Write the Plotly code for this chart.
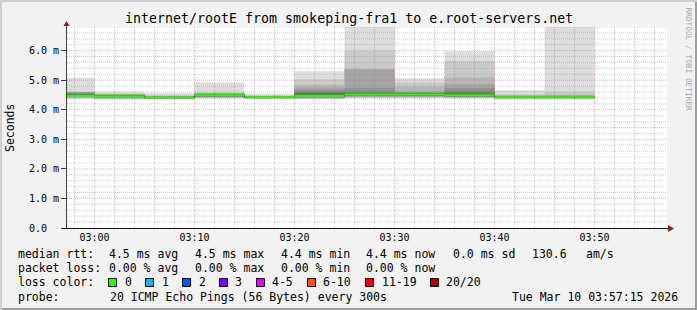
import plotly.graph_objects as go
from datetime import datetime, timedelta

# ---------------- data ----------------
TITLE = "internet/rootE from smokeping-fra1 to e.root-servers.net"
Y_LABEL = "Seconds"
WATERMARK = "RRDTOOL / TOBI OETIKER"
DAY = "2026-03-10"
T_START = "02:57:15"
T_END = "03:57:15"
STEP_S = 300
Y_MAX = 6.8  # ms

bin_ends = ["03:00", "03:05", "03:10", "03:15", "03:20", "03:25",
            "03:30", "03:35", "03:40", "03:45", "03:50"]
median_ms = [4.465, 4.46, 4.41, 4.49, 4.42, 4.47, 4.52, 4.52, 4.49, 4.42, 4.42]

# 20 ping rtts (ms) per 5-minute step
pings_0300 = [4.36, 4.39, 4.41, 4.42, 4.43, 4.44, 4.45, 4.45, 4.46, 4.46,
              4.47, 4.48, 4.49, 4.51, 4.54, 4.58, 4.60, 4.60, 4.61, 5.08]
pings_0305 = [4.34, 4.36, 4.38, 4.40, 4.41, 4.42, 4.43, 4.44, 4.45, 4.46,
              4.46, 4.47, 4.48, 4.49, 4.50, 4.51, 4.52, 4.53, 4.55, 4.61]
pings_0310 = [4.35, 4.36, 4.37, 4.38, 4.39, 4.39, 4.40, 4.40, 4.41, 4.41,
              4.41, 4.42, 4.42, 4.43, 4.44, 4.45, 4.46, 4.47, 4.49, 4.57]
pings_0315 = [4.37, 4.40, 4.42, 4.43, 4.44, 4.45, 4.46, 4.47, 4.48, 4.49,
              4.49, 4.50, 4.51, 4.52, 4.53, 4.54, 4.55, 4.56, 4.59, 4.93]
pings_0320 = [4.36, 4.37, 4.38, 4.39, 4.40, 4.40, 4.41, 4.41, 4.42, 4.42,
              4.42, 4.43, 4.43, 4.44, 4.44, 4.45, 4.46, 4.47, 4.49, 4.54]
pings_0325 = [4.35, 4.37, 4.39, 4.40, 4.41, 4.42, 4.43, 4.44, 4.45, 4.46,
              4.48, 4.50, 4.52, 4.56, 4.62, 4.68, 4.75, 4.85, 5.02, 5.30]
pings_0330 = [4.38, 4.41, 4.43, 4.45, 4.46, 4.47, 4.48, 4.49, 4.50, 4.51,
              4.52, 4.53, 4.54, 4.54, 4.62, 4.74, 5.37, 5.38, 6.00, 7.20]
pings_0335 = [4.38, 4.41, 4.43, 4.45, 4.46, 4.47, 4.48, 4.49, 4.50, 4.51,
              4.52, 4.53, 4.54, 4.55, 4.57, 4.60, 4.63, 4.79, 4.93, 5.07]
pings_0340 = [4.37, 4.40, 4.42, 4.43, 4.44, 4.45, 4.46, 4.47, 4.48, 4.49,
              4.50, 4.51, 4.53, 4.56, 4.63, 4.74, 4.87, 5.10, 5.66, 5.98]
pings_0345 = [4.35, 4.37, 4.38, 4.39, 4.40, 4.40, 4.41, 4.41, 4.42, 4.42,
              4.42, 4.43, 4.43, 4.44, 4.45, 4.46, 4.47, 4.49, 4.53, 4.66]
pings_0350 = [4.35, 4.37, 4.38, 4.39, 4.40, 4.40, 4.41, 4.41, 4.42, 4.42,
              4.42, 4.43, 4.43, 4.44, 4.45, 4.46, 4.48, 4.52, 4.62, 7.20]

x_tick_text = ["03:00", "03:10", "03:20", "03:30", "03:40", "03:50"]
y_tick_vals = [0, 1, 2, 3, 4, 5, 6]
y_tick_text = ["0.0\u00a0\u00a0", "1.0 m", "2.0 m", "3.0 m", "4.0 m", "5.0 m", "6.0 m"]

legend_row1 = ["median rtt:", "4.5 ms avg", "4.5 ms max", "4.4 ms min",
               "4.4 ms now", "0.0 ms sd", "130.6", "am/s"]
legend_row2 = ["packet loss:", "0.00 % avg", "0.00 % max", "0.00 % min", "0.00 % now"]
legend_row3_label = "loss color:"
loss_labels = ["0", "1", "2", "3", "4-5", "6-10", "11-19", "20/20"]
loss_colors = ["#26ff00", "#00b8ff", "#0059ff", "#7e00ff",
               "#dd00ff", "#ff5500", "#ff0000", "#a10000"]
legend_row4 = ["probe:", "20 ICMP Echo Pings (56 Bytes) every 300s"]
timestamp_text = "Tue Mar 10 03:57:15 2026"

# ---------------- layout constants ----------------
W, H = 697, 310
ML, MR, MT, MB = 67, 30, 27, 82
PW = W - ML - MR
PH = H - MT - MB
FONT = "DejaVu Sans Mono"
row1_x = [16, 107, 193, 279, 364, 451, 530, 584]
row2_x = [16, 107, 193, 279, 364]
swatch_x = [108, 145, 182, 219, 256, 307, 365, 430]
swlabel_x = [123, 160, 197, 233, 270, 321, 380, 444]
row4_x = [16, 108]
row_y = [254, 268, 282, 296.5]


def px_x(px):
    return (px - ML) / PW


def px_y(py):
    return (MT + PH - py) / PH


def ts(hm):
    fmt = "%Y-%m-%d %H:%M:%S" if hm.count(":") == 2 else "%Y-%m-%d %H:%M"
    return datetime.strptime(DAY + " " + hm, fmt)


ends = [ts(h) for h in bin_ends]
starts = [e - timedelta(seconds=STEP_S) for e in ends]
xs = starts + [ends[-1]]


def step_y(v):
    return list(v) + [v[-1]]


bins = [sorted(b) for b in [pings_0300, pings_0305, pings_0310, pings_0315,
                             pings_0320, pings_0325, pings_0330, pings_0335,
                             pings_0340, pings_0345, pings_0350]]

fig = go.Figure()

# smoke (smokeping style: nested pairs, darker toward median)
n = len(bins[0])
half = n // 2
for ibot in range(1, half + 1):
    itop = n + 1 - ibot
    c = int(190 / half * (half - ibot)) + 50
    lo = [b[ibot - 1] for b in bins]
    hi = [b[itop - 1] for b in bins]
    fig.add_trace(go.Scatter(x=xs, y=step_y(lo), mode="lines",
                             line=dict(width=0, shape="hv"),
                             hoverinfo="skip", showlegend=False))
    fig.add_trace(go.Scatter(x=xs, y=step_y(hi), mode="lines",
                             line=dict(width=0, shape="hv"),
                             fill="tonexty", fillcolor=f"#{c:02x}{c:02x}{c:02x}",
                             hoverinfo="skip", showlegend=False))

# median: dark step line + loss-coloured band
sw = Y_MAX / 200.0
fig.add_trace(go.Scatter(x=xs, y=step_y(median_ms), mode="lines",
                         line=dict(width=1, color="#202020", shape="hv"),
                         hoverinfo="skip", showlegend=False))
fig.add_trace(go.Scatter(x=xs, y=step_y([m - sw for m in median_ms]), mode="lines",
                         line=dict(width=0, shape="hv"),
                         hoverinfo="skip", showlegend=False))
fig.add_trace(go.Scatter(x=xs, y=step_y([m + sw for m in median_ms]), mode="lines",
                         line=dict(width=0, shape="hv"), fill="tonexty",
                         fillcolor=loss_colors[0],
                         hoverinfo="skip", showlegend=False))

shapes = []
GRID = "rgba(143,143,143,0.46)"
MGRID = "rgba(222,80,80,0.46)"
# vertical grid every 2 minutes
t = ts("02:58")
t_end = ts(T_END)
while t < t_end:
    major = (t.minute % 10 == 0)
    shapes.append(dict(type="line", xref="x", yref="paper", x0=t, x1=t, y0=0, y1=1,
                       line=dict(color=MGRID if major else GRID, width=1, dash="1px,1px"),
                       layer="above"))
    t += timedelta(minutes=2)
# horizontal grid every 0.2 ms
i = 1
while i * 0.2 <= Y_MAX + 1e-9:
    v = round(i * 0.2, 3)
    major = (i % 5 == 0)
    shapes.append(dict(type="line", xref="paper", yref="y", x0=0, x1=1, y0=v, y1=v,
                       line=dict(color=MGRID if major else GRID, width=1, dash="1px,1px"),
                       layer="above"))
    i += 1

# axes lines and arrows
shapes.append(dict(type="line", xref="paper", yref="paper",
                   x0=px_x(62), x1=px_x(669), y0=px_y(228.5), y1=px_y(228.5),
                   line=dict(color="#101010", width=1), layer="above"))
shapes.append(dict(type="line", xref="paper", yref="paper",
                   x0=px_x(66.5), x1=px_x(66.5), y0=px_y(228.5), y1=px_y(25),
                   line=dict(color="#404040", width=1), layer="above"))
ARROW = "#a01818"
shapes.append(dict(type="path", xref="paper", yref="paper",
                   path=f"M {px_x(668)},{px_y(225)} L {px_x(674)},{px_y(228.5)} L {px_x(668)},{px_y(232)} Z",
                   fillcolor=ARROW, line=dict(width=0), layer="above"))
shapes.append(dict(type="path", xref="paper", yref="paper",
                   path=f"M {px_x(63.5)},{px_y(26)} L {px_x(66.5)},{px_y(21)} L {px_x(69.5)},{px_y(26)} Z",
                   fillcolor=ARROW, line=dict(width=0), layer="above"))

# frame (bevel)
shapes.append(dict(type="rect", xref="paper", yref="paper", x0=px_x(0), x1=px_x(W),
                   y0=px_y(0), y1=px_y(2), fillcolor="#cfcfcf", line=dict(width=0)))
shapes.append(dict(type="rect", xref="paper", yref="paper", x0=px_x(0), x1=px_x(2),
                   y0=px_y(0), y1=px_y(H), fillcolor="#cfcfcf", line=dict(width=0)))
shapes.append(dict(type="rect", xref="paper", yref="paper", x0=px_x(2), x1=px_x(W),
                   y0=px_y(H - 2), y1=px_y(H), fillcolor="#9e9e9e", line=dict(width=0)))
shapes.append(dict(type="rect", xref="paper", yref="paper", x0=px_x(W - 2), x1=px_x(W),
                   y0=px_y(2), y1=px_y(H), fillcolor="#9e9e9e", line=dict(width=0)))

# loss colour swatches
for sx, col in zip(swatch_x, loss_colors):
    shapes.append(dict(type="rect", xref="paper", yref="paper",
                       x0=px_x(sx + 0.5), x1=px_x(sx + 8.5), y0=px_y(278.5), y1=px_y(286.5),
                       fillcolor=col, line=dict(color="#000000", width=1)))

ann = []


def text(x, y, s, size=11.5, xanchor="left", color="#000000", angle=0):
    ann.append(dict(xref="paper", yref="paper", x=px_x(x), y=px_y(y), text=s,
                    showarrow=False, xanchor=xanchor, yanchor="middle",
                    textangle=angle, font=dict(family=FONT, size=size, color=color)))


text(348.5, 18, TITLE, size=13.3, xanchor="center")
text(10, 128, Y_LABEL, size=11.5, xanchor="center", angle=-90)
text(688.5, 59, WATERMARK, size=7.8, xanchor="center", color="#a8a8a8", angle=90)
for s, x in zip(legend_row1, row1_x):
    text(x, row_y[0], s)
for s, x in zip(legend_row2, row2_x):
    text(x, row_y[1], s)
text(16, row_y[2], legend_row3_label)
for s, x in zip(loss_labels, swlabel_x):
    text(x, row_y[2], s)
for s, x in zip(legend_row4, row4_x):
    text(x, row_y[3], s)
text(680, row_y[3], timestamp_text, xanchor="right")

fig.update_layout(
    width=W, height=H,
    margin=dict(l=ML, r=MR, t=MT, b=MB, pad=0),
    paper_bgcolor="#f2f2f2", plot_bgcolor="#ffffff",
    showlegend=False,
    shapes=shapes, annotations=ann,
    font=dict(family=FONT, size=10, color="#000000"),
    xaxis=dict(type="date", range=[ts(T_START), ts(T_END)],
               tickvals=[ts(h) for h in x_tick_text], ticktext=x_tick_text,
               showgrid=False, zeroline=False, showline=False, ticks="",
               ticklabelstandoff=2,
               tickfont=dict(family=FONT, size=10, color="#000000"), fixedrange=True),
    yaxis=dict(range=[0, Y_MAX], tickvals=y_tick_vals, ticktext=y_tick_text,
               showgrid=False, zeroline=False, showline=False,
               ticks="outside", ticklen=5, tickcolor="#404040", tickwidth=1,
               tickfont=dict(family=FONT, size=10, color="#000000"), fixedrange=True),
)

fig.write_html("out.html")
